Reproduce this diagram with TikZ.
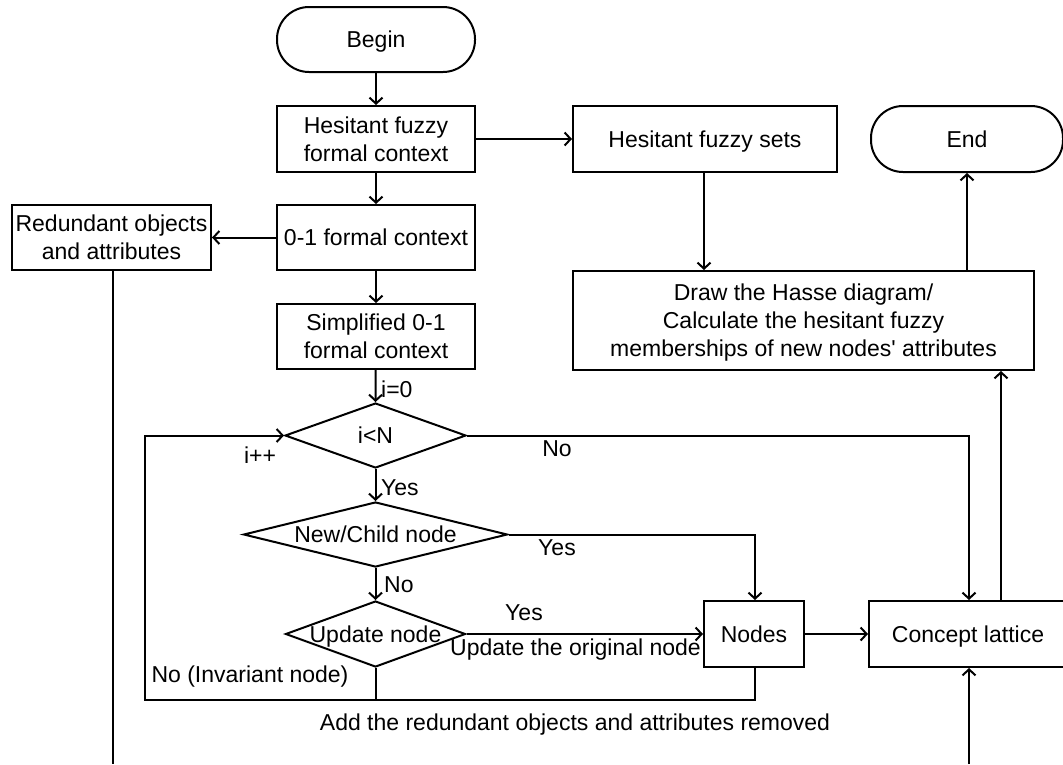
\documentclass[tikz,border=0pt]{standalone}
\usepackage{fontspec}
\setmainfont{Liberation Sans}[Ligatures=TeXOff]
\usetikzlibrary{shapes.geometric,arrows.meta}
\begin{document}
\begin{tikzpicture}[x=1pt,y=-1pt,
  every node/.style={font=\fontsize{23}{28}\selectfont},
  ln/.style={line width=2pt},
  arr/.style={ln,-{Straight Barb[length=6pt,width=13pt,line width=2pt]}},
  box/.style={draw,ln,rectangle,align=center,inner sep=0pt,text depth=0pt},
  term/.style={draw,ln,rectangle,rounded corners=32pt,inner sep=0pt,minimum height=65pt,text depth=0pt},
  dia/.style={draw,ln,diamond,inner sep=0pt},
  dlab/.style={text depth=0pt},
  lbl/.style={inner sep=0pt}]
\useasboundingbox (0,0) rectangle (1063,764);
% nodes
\node[term,minimum width=198pt] (begin) at (376,39.5) {Begin};
\node[box,minimum width=198pt,minimum height=66pt] (hffc) at (376,139) {Hesitant fuzzy\\formal context};
\node[box,minimum width=198pt,minimum height=65pt] (fc01) at (376,237.5) {0-1 formal context};
\node[box,minimum width=198pt,minimum height=65pt] (simp) at (376,336.5) {Simplified 0-1\\formal context};
\node[box,minimum width=199pt,minimum height=65pt] (red) at (111.5,237.5) {Redundant objects\\and attributes};
\node[box,minimum width=264pt,minimum height=66pt] (hfs) at (705,139) {Hesitant fuzzy sets};
\node[term,minimum width=192pt,minimum height=66pt] (endn) at (967,139) {End};
\node[box,minimum width=461pt,minimum height=99pt] (hasse) at (803.5,320.5) {Draw the Hasse diagram/\\Calculate the hesitant fuzzy\\memberships of new nodes' attributes};
\node[dia,minimum width=181pt,minimum height=65pt,label={[dlab]center:i<N}] (iN) at (375.5,435.5) {};
\node[dia,minimum width=264pt,minimum height=65pt,label={[dlab]center:New/Child node}] (nc) at (375.5,534.5) {};
\node[dia,minimum width=180pt,minimum height=66pt,label={[dlab]center:Update node}] (upd) at (375.5,634) {};
\node[box,minimum width=100pt,minimum height=66pt] (nodes) at (754,634) {Nodes};
\node[box,minimum width=198pt,minimum height=66pt] (cl) at (968,634) {Concept lattice};
% coordinates
\coordinate (lb) at (145,700);
\coordinate (redend) at (113,764);
\coordinate (clbot) at (969,764);
% connectors
\draw[arr] (begin) -- (hffc);
\draw[arr] (hffc) -- (fc01);
\draw[arr] (fc01) -- (simp);
\draw[arr] (simp) -- (iN.north);
\draw[arr] (iN.south) -- (nc.north);
\draw[arr] (nc.south) -- (upd.north);
\draw[arr] (hffc.east) -- (hfs.west);
\draw[arr] (fc01.west) -- (red.east);
\draw[arr] ([xshift=-1pt]hfs.south) -- ([xshift=-1pt]hfs.south |- hasse.north);
\draw[arr] (endn.south |- hasse.north) -- (endn.south);
\draw[arr] ([xshift=33pt]cl.north) -- ([xshift=33pt]cl.north |- hasse.south);
\draw[arr] (iN.east) -| ([xshift=1pt]cl.north);
\draw[arr] (nc.east) -| ([xshift=1pt]nodes.north);
\draw[arr] (upd.east) -- (nodes.west);
\draw[arr] (nodes.east) -- (cl.west);
\draw[arr] ([xshift=1pt]nodes.south) |- (lb) |- (iN.west);
\draw[ln] (upd.south) -- (upd.south |- lb);
\draw[ln] (redend |- red.south) -- (redend);
\draw[arr] (clbot) -- (clbot |- cl.south);
% labels
\node[lbl,anchor=west] (l0) at (381,389) {i=0};
\node[lbl] (lpp) at (260,455) {i++};
\node[lbl] (lno1) at (557,449) {No};
\node[lbl,anchor=west] (lyes1) at (381,488) {Yes};
\node[lbl] (lyes2) at (557,548) {Yes};
\node[lbl,anchor=west] (lno2) at (384,585) {No};
\node[lbl] (lyes3) at (524,613) {Yes};
\node[lbl,anchor=east] (lupd) at (701,650) {Update the original node};
\node[lbl] (linv) at (250,677) {No (Invariant node)};
\node[lbl] (ladd) at (575,725) {Add the redundant objects and attributes removed};
\end{tikzpicture}
\end{document}
